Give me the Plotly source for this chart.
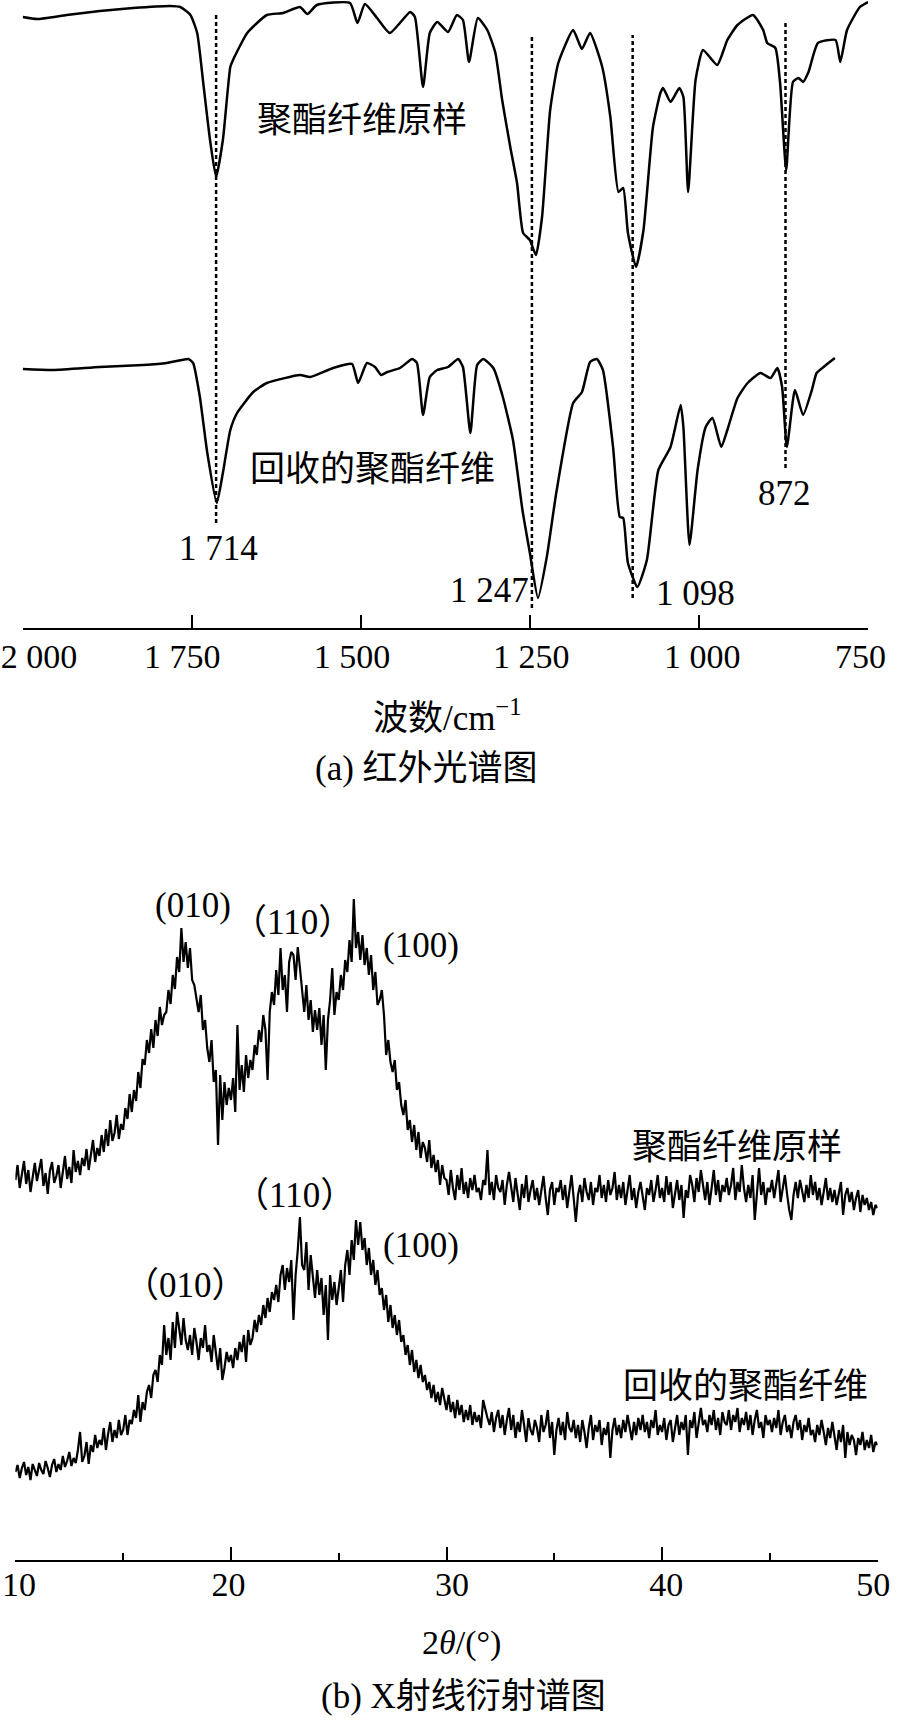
import plotly.graph_objects as go

# ---------------- (a) IR spectra ----------------
ir_raw_wn = [2000, 1979, 1935, 1886, 1837, 1782, 1767, 1752, 1742, 1733, 1723, 1714, 1704, 1693, 1689,
             1668, 1639, 1615, 1590, 1579, 1565, 1516, 1505, 1494, 1476, 1457, 1427, 1420, 1408, 1398,
             1387, 1371, 1358, 1349, 1340, 1327, 1313, 1301, 1291, 1279, 1269, 1260, 1250, 1241, 1232,
             1220, 1208, 1186, 1173, 1161, 1143, 1131, 1119, 1112, 1105, 1093, 1082, 1068, 1057, 1053,
             1042, 1029, 1023, 1016, 1005, 994, 973, 958, 943, 920, 905, 899, 887, 880, 871,
             861, 853, 846, 838, 824, 798, 791, 781, 762, 750]
ir_raw_t = [611, 609, 613, 617, 620, 622, 621, 613, 595, 545, 488, 451, 488, 561, 568,
            595, 613, 615, 621, 614, 623, 625, 605, 624, 610, 595, 616, 611, 541, 595,
            606, 596, 613, 608, 566, 610, 598, 575, 528, 481, 445, 395, 388, 373, 411,
            518, 565, 598, 579, 595, 561, 511, 436, 440, 395, 361, 398, 501, 535, 540,
            526, 540, 531, 436, 548, 578, 563, 588, 603, 613, 598, 585, 580, 545, 458,
            546, 550, 546, 556, 585, 588, 566, 598, 621, 626]

ir_rec_wn = [2000, 1955, 1886, 1822, 1787, 1755, 1748, 1738, 1727, 1713, 1704, 1693, 1683, 1659, 1639,
             1590, 1575, 1541, 1513, 1504, 1491, 1479, 1470, 1461, 1442, 1424, 1417, 1408, 1398, 1387,
             1371, 1356, 1349, 1338, 1328, 1319, 1304, 1290, 1275, 1261, 1250, 1238, 1225, 1211, 1186,
             1173, 1161, 1151, 1142, 1127, 1117, 1112, 1105, 1091, 1077, 1060, 1042, 1027, 1023, 1014,
             1002, 990, 980, 967, 958, 943, 928, 909, 894, 884, 877, 870, 858, 846, 833,
             826, 814, 799]
ir_rec_t = [259, 258, 261, 263, 265, 269, 265, 231, 175, 125, 155, 198, 215, 236, 245,
            253, 251, 260, 264, 245, 265, 261, 253, 256, 260, 269, 265, 213, 251, 258,
            261, 269, 261, 195, 263, 269, 260, 231, 188, 118, 75, 30, 71, 135, 225,
            236, 266, 269, 258, 181, 111, 110, 65, 41, 68, 158, 181, 223, 201, 83,
            158, 201, 210, 181, 198, 230, 245, 255, 250, 260, 241, 181, 238, 213, 238,
            255, 262, 270]

ir_mark_wn = [1714, 1247, 1098, 872]
ir_mark_top = [616, 593, 593, 605]
ir_mark_bottom = [105, 20, 30, 160]
ir_mark_labels = ["1 714", "1 247", "1 098", "872"]
ir_mark_label_wn = [1710, 1309, 1005, 874]
ir_mark_label_t = [80, 38, 35, 135]

ir_tick_vals = [2000, 1750, 1500, 1250, 1000, 750]
ir_tick_text = ["2 000", "1 750", "1 500", "1 250", "1 000", "750"]
ir_tick_label_pos = [1976, 1764, 1513, 1248, 995, 761]   # where the original prints each label

ir_names = ["聚酯纤维原样", "回收的聚酯纤维"]
ir_name_wn = [1498, 1482]
ir_name_t = [512, 163]

# ---------------- (b) XRD patterns ----------------
xrd_raw = [
    380, 395, 372, 388, 399, 376, 390, 368, 385, 397,
    379, 392, 401, 374, 387, 366, 389, 398, 377, 384,
    395, 372, 386, 404, 381, 393, 377, 410, 388, 399,
    385, 402, 394, 411, 390, 405, 420, 398, 412, 404,
    425, 408, 431, 414, 440, 419, 427, 445, 421, 436,
    430, 452, 441, 466, 448, 470, 459, 488, 472, 501,
    495, 520, 507, 531, 512, 540, 524, 553, 535, 545,
    548, 570, 556, 585, 571, 603, 588, 632, 598, 618,
    592, 612, 580, 575, 560, 548, 565, 530, 540, 512,
    498, 520, 478, 490, 415, 485, 440, 478, 455, 472,
    460, 482, 448, 535, 470, 495, 468, 505, 482, 500,
    490, 515, 505, 530, 518, 545, 530, 480, 548, 568,
    555, 590, 565, 612, 570, 585, 548, 598, 608, 605,
    580, 613, 592, 570, 548, 575, 540, 560, 528, 550,
    530, 552, 515, 545, 490, 540, 560, 592, 545, 568,
    560, 585, 570, 600, 588, 620, 598, 661, 612, 628,
    600, 625, 595, 612, 585, 605, 570, 588, 555, 560,
    570, 545, 505, 520, 498, 488, 500, 470, 478, 455,
    445, 460, 430, 440, 418, 435, 410, 428, 402, 418,
    412, 398, 420, 392, 405, 388, 400, 375, 395, 382,
    380, 365, 390, 372, 360, 385, 370, 392, 366, 378,
    362, 382, 370, 385, 368, 372, 360, 380, 375, 410,
    365, 378, 360, 385, 372, 368, 380, 355, 375, 388,
    372, 358, 382, 365, 350, 376, 362, 385, 358, 370,
    380, 360, 372, 355, 368, 384, 362, 345, 370, 378,
    355, 372, 368, 380, 360, 375, 352, 370, 385, 362,
    338, 365, 375, 358, 382, 368, 360, 378, 355, 372,
    368, 385, 362, 375, 358, 380, 365, 372, 388, 360,
    375, 362, 378, 355, 370, 385, 360, 372, 352, 368,
    378, 362, 350, 372, 365, 380, 358, 370, 385, 362,
    372, 358, 384, 365, 378, 352, 368, 380, 360, 375,
    342, 370, 362, 385, 375, 358, 382, 368, 390, 372,
    360, 378, 355, 372, 390, 365, 380, 358, 375, 368,
    382, 365, 375, 392, 360, 378, 368, 395, 372, 358,
    375, 362, 385, 340, 370, 392, 365, 378, 355, 372,
    368, 380, 362, 375, 390, 358, 372, 385, 366, 350,
    340, 365, 378, 362, 380, 370, 358, 375, 362, 385,
    365, 378, 360, 372, 355, 368, 382, 360, 372, 358,
    370, 355, 368, 378, 345, 365, 372, 358, 368, 350,
    362, 370, 348, 365, 355, 362, 350, 358, 345, 355,
    352]

xrd_rec = [
    88, 95, 82, 92, 98, 85, 93, 80, 96, 89,
    84, 97, 90, 86, 99, 92, 83, 95, 101, 88,
    96, 90, 104, 93, 99, 108, 94, 102, 97, 110,
    128, 98, 104, 118, 96, 115, 108, 125, 112, 120,
    115, 132, 110, 126, 138, 118, 130, 122, 140, 125,
    130, 145, 125, 140, 136, 150, 142, 165, 138, 158,
    150, 168, 175, 162, 185, 190, 178, 205, 195, 235,
    205, 222, 200, 238, 212, 248, 228, 215, 242, 220,
    210, 225, 205, 232, 218, 200, 222, 212, 235, 208,
    215, 198, 225, 205, 190, 212, 180, 192, 208, 198,
    205, 192, 212, 200, 218, 208, 225, 198, 230, 215,
    222, 240, 228, 245, 235, 255, 242, 262, 248, 268,
    260, 275, 258, 285, 295, 270, 292, 278, 300, 240,
    285, 310, 343, 295, 290, 318, 270, 305, 280, 262,
    290, 265, 282, 245, 275, 220, 285, 260, 278, 255,
    272, 290, 258, 295, 310, 285, 320, 300, 340, 315,
    338, 310, 322, 295, 312, 285, 300, 275, 290, 265,
    272, 250, 265, 238, 255, 232, 245, 225, 240, 218,
    225, 205, 215, 195, 210, 188, 200, 182, 195, 178,
    185, 170, 178, 162, 175, 158, 168, 155, 172, 160,
    150, 165, 148, 158, 142, 160, 145, 155, 138, 150,
    140, 155, 135, 148, 138, 145, 132, 160, 150, 142,
    135, 148, 128, 142, 150, 132, 145, 125, 140, 152,
    130, 145, 122, 138, 128, 150, 135, 118, 142, 130,
    125, 140, 132, 118, 145, 128, 135, 150, 122, 138,
    105, 130, 142, 125, 138, 120, 148, 132, 128, 140,
    122, 135, 118, 140, 128, 112, 132, 145, 120, 135,
    128, 140, 115, 132, 125, 138, 102, 130, 142, 125,
    135, 122, 140, 128, 145, 132, 120, 138, 125, 142,
    130, 145, 128, 138, 122, 140, 132, 150, 125, 135,
    128, 142, 120, 135, 140, 118, 132, 145, 125, 138,
    130, 145, 105, 140, 132, 148, 122, 138, 152, 135,
    140, 128, 145, 135, 150, 130, 142, 125, 148, 138,
    135, 150, 130, 145, 138, 152, 128, 142, 135, 148,
    130, 145, 125, 140, 150, 132, 138, 122, 145, 135,
    140, 128, 142, 132, 150, 125, 138, 145, 128, 135,
    122, 138, 145, 130, 140, 120, 135, 128, 142, 125,
    130, 118, 135, 125, 140, 128, 115, 132, 122, 138,
    125, 110, 130, 118, 135, 102, 128, 115, 125, 120,
    105, 122, 115, 128, 110, 120, 112, 125, 108, 118,
    115]

xrd_start, xrd_step = 10.0, 0.1
xrd_tick_vals = [10, 20, 30, 40, 50]
xrd_tick_text = ["10", "20", "30", "40", "50"]
xrd_tick_label_pos = [10.17, 19.89, 30.25, 40.2, 49.8]   # where the original prints each label
xrd_minor_vals = [15, 25, 35, 45]

xrd_peak_labels = ["(010)", "（110）", "(100)", "（110）", "(100)", "（010）"]
xrd_peak_x = [18.24, 22.87, 28.81, 22.97, 28.81, 17.91]
xrd_peak_y = [655, 638, 615, 365, 315, 275]
xrd_names = ["聚酯纤维原样", "回收的聚酯纤维"]
xrd_name_x = [43.47, 43.89]
xrd_name_y = [417, 178]

# ---------------- figure ----------------
W, H = 900, 1728
SERIF = "Liberation Serif, 'Noto Sans CJK SC', serif"
CJK = "'Noto Sans CJK SC', sans-serif"
FS_LAB = 35
FS_TICK = 34

fig = go.Figure()

line_style = dict(color="black", width=2.5, shape="spline", smoothing=0.5)
fig.add_trace(go.Scatter(x=ir_raw_wn, y=ir_raw_t, mode="lines", line=line_style,
                         xaxis="x", yaxis="y", showlegend=False, hoverinfo="skip"))
fig.add_trace(go.Scatter(x=ir_rec_wn, y=ir_rec_t, mode="lines", line=line_style,
                         xaxis="x", yaxis="y", showlegend=False, hoverinfo="skip"))
for wn, t0, t1 in zip(ir_mark_wn, ir_mark_bottom, ir_mark_top):
    fig.add_trace(go.Scatter(x=[wn, wn], y=[t0, t1], mode="lines",
                             line=dict(color="black", width=2.5, dash="4px,3px"),
                             xaxis="x", yaxis="y", showlegend=False, hoverinfo="skip"))
# invisible carrier traces for the label-only overlay axes
fig.add_trace(go.Scatter(x=ir_tick_vals, y=[0] * len(ir_tick_vals), mode="markers",
                         marker=dict(opacity=0), xaxis="x3", yaxis="y",
                         showlegend=False, hoverinfo="skip"))
fig.add_trace(go.Scatter(x=xrd_tick_vals, y=[0] * len(xrd_tick_vals), mode="markers",
                         marker=dict(opacity=0), xaxis="x4", yaxis="y2",
                         showlegend=False, hoverinfo="skip"))

theta = [round(xrd_start + xrd_step * i, 2) for i in range(len(xrd_raw))]
theta2 = [round(xrd_start + xrd_step * i, 2) for i in range(len(xrd_rec))]
fig.add_trace(go.Scatter(x=theta, y=xrd_raw, mode="lines", line=dict(color="black", width=2.2),
                         xaxis="x2", yaxis="y2", showlegend=False, hoverinfo="skip"))
fig.add_trace(go.Scatter(x=theta2, y=xrd_rec, mode="lines", line=dict(color="black", width=2.2),
                         xaxis="x2", yaxis="y2", showlegend=False, hoverinfo="skip"))


def ann(text, x, y, xref, yref, family, size):
    return dict(text=text, x=x, y=y, xref=xref, yref=yref, showarrow=False,
                xanchor="center", yanchor="middle",
                font=dict(family=family, size=size, color="black"))


annotations = []
for txt, x, y in zip(ir_names, ir_name_wn, ir_name_t):
    annotations.append(ann(txt, x, y, "x", "y", CJK, FS_LAB))
for txt, x, y in zip(ir_mark_labels, ir_mark_label_wn, ir_mark_label_t):
    annotations.append(ann(txt, x, y, "x", "y", SERIF, FS_LAB))
for txt, x, y in zip(xrd_peak_labels, xrd_peak_x, xrd_peak_y):
    annotations.append(ann(txt, x, y, "x2", "y2", SERIF, FS_LAB))
for txt, x, y in zip(xrd_names, xrd_name_x, xrd_name_y):
    annotations.append(ann(txt, x, y, "x2", "y2", CJK, FS_LAB))

# axis titles and captions
annotations += [
    ann("波数/cm<sup>−1</sup>", 447 / W, 1 - 715 / H, "paper", "paper", SERIF, 35),
    ann("(a) 红外光谱图", 426 / W, 1 - 768 / H, "paper", "paper", SERIF, 35),
    ann("2<i>θ</i>/(°)", 461 / W, 1 - 1643 / H, "paper", "paper", SERIF, 34),
    ann("(b) X射线衍射谱图", 463 / W, 1 - 1696 / H, "paper", "paper", SERIF, 35),
]

axis_common = dict(showline=True, linecolor="black", linewidth=2, ticks="inside", ticklen=13,
                   tickwidth=2, tickcolor="black", showgrid=False, zeroline=False,
                   showticklabels=False, automargin=False)
label_axis = dict(ticks="", showline=False, showgrid=False, zeroline=False, automargin=False,
                  side="bottom", tickmode="array",
                  tickfont=dict(family=SERIF, size=FS_TICK, color="black"))

ir_domain = [22.7 / W, 868 / W]
xrd_domain = [15.4 / W, 877.6 / W]
fig.update_layout(
    width=W, height=H,
    margin=dict(l=0, r=0, t=0, b=0),
    paper_bgcolor="white", plot_bgcolor="white",
    xaxis=dict(domain=ir_domain, range=[2000, 750], anchor="y",
               tickmode="array", tickvals=ir_tick_vals, **axis_common),
    xaxis3=dict(domain=ir_domain, range=[2000, 750], anchor="y", overlaying="x",
                tickvals=ir_tick_label_pos, ticktext=ir_tick_text, ticklabelstandoff=5,
                **label_axis),
    yaxis=dict(domain=[1 - 628 / H, 1], range=[0, 628], visible=False, anchor="x"),
    xaxis2=dict(domain=xrd_domain, range=[10, 50], anchor="y2",
                tickmode="array", tickvals=xrd_tick_vals,
                minor=dict(tickvals=xrd_minor_vals, ticks="inside", ticklen=7, tickwidth=2,
                           tickcolor="black", showgrid=False),
                **axis_common),
    xaxis4=dict(domain=xrd_domain, range=[10, 50], anchor="y2", overlaying="x2",
                tickvals=xrd_tick_label_pos, ticktext=xrd_tick_text, ticklabelstandoff=1,
                **label_axis),
    yaxis2=dict(domain=[1 - 1560 / H, 1 - 840 / H], range=[0, 720], visible=False, anchor="x2"),
    annotations=annotations,
    hovermode=False,
)

fig.write_html("out.html", config={"displayModeBar": False, "staticPlot": True},
               post_script="document.body.style.margin='0px';")
